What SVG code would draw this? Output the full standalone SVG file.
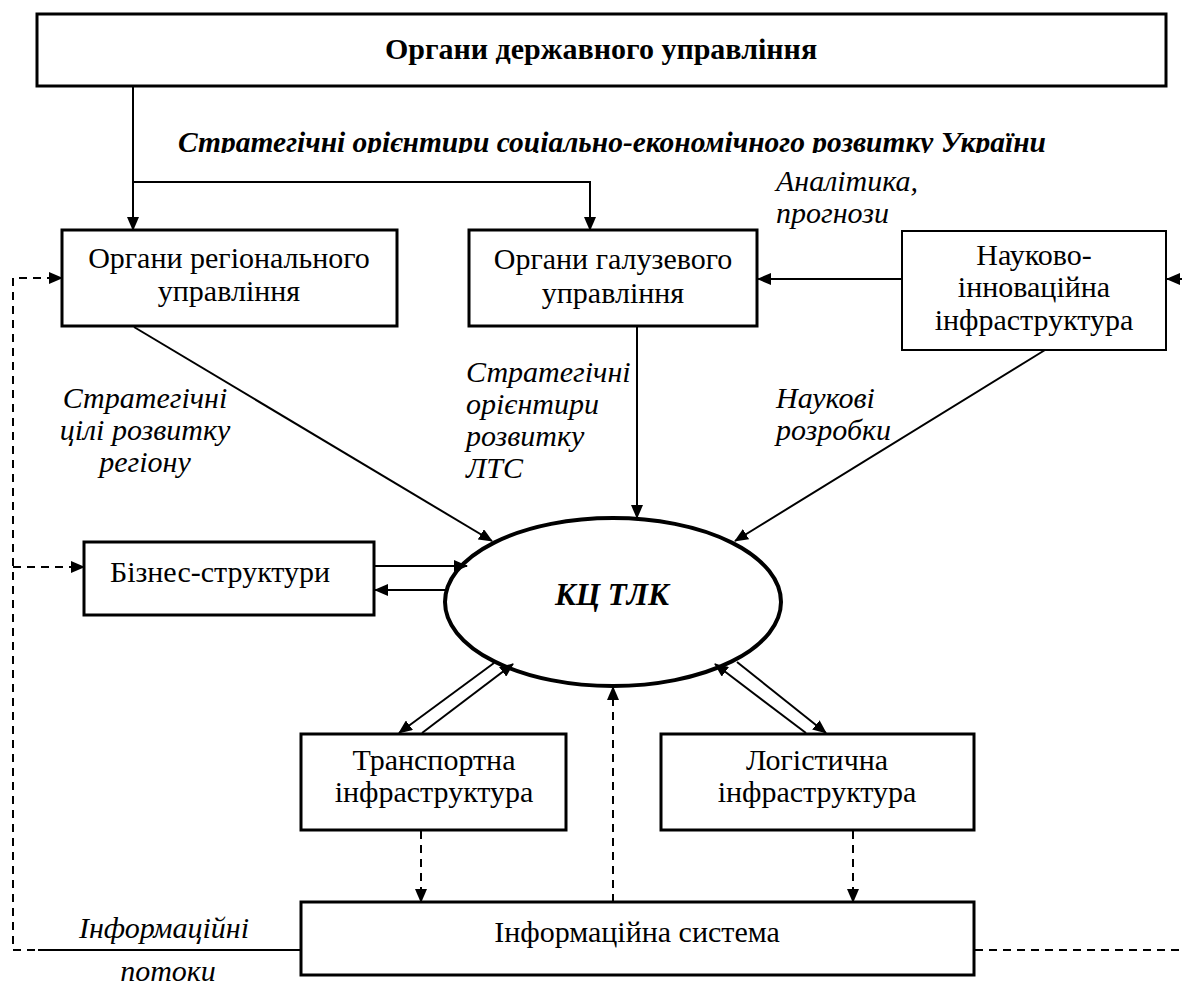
<svg xmlns="http://www.w3.org/2000/svg" width="1182" height="988" viewBox="0 0 1182 988">
<style>
.box{fill:#fff;stroke:#000;stroke-width:3}
.thin{fill:#fff;stroke:#000;stroke-width:2}
.t{font-family:"Liberation Serif","Times New Roman","DejaVu Serif",serif;font-size:30px;fill:#000}
.c{text-anchor:middle}
.i{font-style:italic}
.b{font-weight:bold}
.ln{fill:none;stroke:#000;stroke-width:2}
.ds{fill:none;stroke:#000;stroke-width:2;stroke-dasharray:8,6}
</style>
<defs>
<marker id="ah" markerUnits="userSpaceOnUse" markerWidth="14" markerHeight="12" refX="13" refY="6" orient="auto">
<path d="M0,0 L14,6 L0,12 z" fill="#000"/>
</marker>
<clipPath id="subclip"><rect x="0" y="100" width="1182" height="53"/></clipPath>
</defs>

<g id="top">
<rect class="box" x="37" y="14" width="1129" height="72"/>
<text class="t b c" x="601" y="59">Органи державного управління</text>
</g>

<g id="labels">
<text class="t b i" x="178" y="152" clip-path="url(#subclip)" textLength="868" lengthAdjust="spacingAndGlyphs">Стратегічні орієнтири соціально-економічного розвитку України</text>
<text class="t i" x="776" y="191">Аналітика,</text>
<text class="t i" x="776" y="223">прогнози</text>
<text class="t i c" x="145" y="408">Стратегічні</text>
<text class="t i c" x="145" y="440">цілі розвитку</text>
<text class="t i c" x="145" y="472">регіону</text>
<text class="t i" x="466" y="382">Стратегічні</text>
<text class="t i" x="466" y="414">орієнтири</text>
<text class="t i" x="466" y="446">розвитку</text>
<text class="t i" x="466" y="478">ЛТС</text>
<text class="t i" x="776" y="408">Наукові</text>
<text class="t i" x="776" y="440">розробки</text>
<text class="t i c" x="164" y="938">Інформаційні</text>
<text class="t i c" x="168" y="981">потоки</text>
</g>

<g id="regional">
<rect class="box" x="62" y="230" width="335" height="96"/>
<text class="t c" x="229" y="268">Органи регіонального</text>
<text class="t c" x="229" y="301">управління</text>
</g>

<g id="branch">
<rect class="box" x="469" y="230" width="288" height="96"/>
<text class="t c" x="613" y="269">Органи галузевого</text>
<text class="t c" x="613" y="303">управління</text>
</g>

<g id="science">
<rect class="thin" x="902" y="231" width="264" height="119"/>
<text class="t c" x="1034" y="265">Науково-</text>
<text class="t c" x="1034" y="297">інноваційна</text>
<text class="t c" x="1034" y="330">інфраструктура</text>
</g>

<g id="kc">
<ellipse cx="613" cy="602" rx="168" ry="84" fill="#fff" stroke="#000" stroke-width="4"/>
<text class="t b i c" x="612" y="605" style="font-size:31px">КЦ ТЛК</text>
</g>

<g id="business">
<rect class="box" x="84" y="542" width="290" height="73"/>
<text class="t c" x="220" y="582">Бізнес-структури</text>
</g>

<g id="transport">
<rect class="box" x="301" y="734" width="265" height="96"/>
<text class="t c" x="434" y="770">Транспортна</text>
<text class="t c" x="434" y="802">інфраструктура</text>
</g>

<g id="logistic">
<rect class="box" x="661" y="734" width="313" height="96"/>
<text class="t c" x="817" y="770">Логістична</text>
<text class="t c" x="817" y="802">інфраструктура</text>
</g>

<g id="info">
<rect class="box" x="301" y="902" width="673" height="73"/>
<text class="t c" x="637" y="942">Інформаційна система</text>
</g>

<g id="connectors">
<path class="ln" d="M133,86 V230" marker-end="url(#ah)"/>
<path class="ln" d="M133,182 H590 V230" marker-end="url(#ah)"/>
<path class="ln" d="M902,279 H758" marker-end="url(#ah)"/>
<path class="ln" d="M1182,279 H1167" marker-end="url(#ah)"/>
<path class="ln" d="M134,327 L492,541" marker-end="url(#ah)"/>
<path class="ln" d="M637,326 V518" marker-end="url(#ah)"/>
<path class="ln" d="M1045,350 L735,541" marker-end="url(#ah)"/>
<path class="ln" d="M375,566 H467" marker-end="url(#ah)"/>
<path class="ln" d="M447,590 H375" marker-end="url(#ah)"/>
<path class="ln" d="M494,663 L399,733" marker-end="url(#ah)"/>
<path class="ln" d="M422,733 L513,664" marker-end="url(#ah)"/>
<path class="ln" d="M737,662 L826,733" marker-end="url(#ah)"/>
<path class="ln" d="M806,733 L715,664" marker-end="url(#ah)"/>
<path class="ds" d="M421,831 V902" marker-end="url(#ah)"/>
<path class="ds" d="M853,831 V902" marker-end="url(#ah)"/>
<path class="ds" d="M613,902 V687" marker-end="url(#ah)"/>
<path class="ds" d="M301,950 H13 V278 H62" marker-end="url(#ah)"/>
<path class="ds" d="M13,567 H84" marker-end="url(#ah)"/>
<path class="ln" d="M38,950 H301"/>
<path class="ds" d="M975,950 H1182"/>
</g>
</svg>
